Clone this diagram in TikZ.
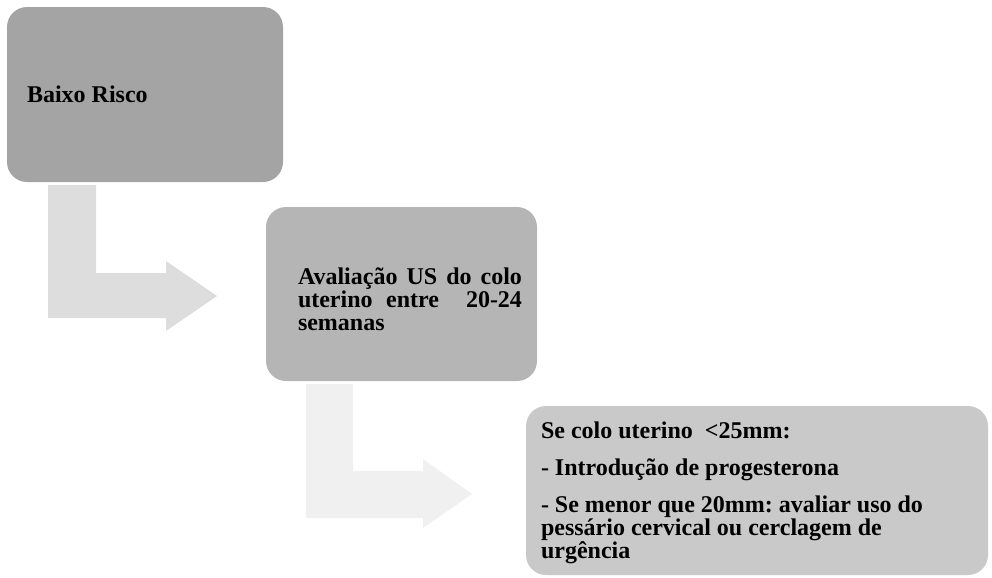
\documentclass[tikz,border=0pt]{standalone}
\usepackage{fontspec}
\setmainfont{Liberation Serif}
\usetikzlibrary{calc}
\definecolor{riscofill}{HTML}{A4A4A4}
\definecolor{avalfill}{HTML}{B5B5B5}
\definecolor{condfill}{HTML}{C9C9C9}
\definecolor{setaum}{HTML}{DDDDDD}
\definecolor{setadois}{HTML}{F0F0F0}
\tikzset{
	caixa/.style={rounded corners=15pt, inner sep=0pt},
	texto/.style={anchor=west, inner sep=0pt, font=\bfseries\fontsize{18}{17}\selectfont\frenchspacing},
}

\begin{document}
\begin{tikzpicture}[x=0.75pt, y=-0.75pt]
		%%%%% START %%%%%
		\useasboundingbox (0, 0) rectangle (992, 578);
		
		\fill[setaum] (48, 185) -- (96, 185) -- (96, 273) -- (166, 273) -- (166, 261) -- (217, 296) -- (166, 331) -- (166, 318) -- (48, 318) -- cycle;
		\fill[setadois] (306, 384) -- (353, 384) -- (353, 471) -- (423, 471) -- (423, 459) -- (472, 494) -- (423, 528) -- (423, 518) -- (306, 518) -- cycle;
		
		\node[caixa, fill=riscofill, minimum width=207pt, minimum height=131.25pt] (risco) at (145, 94.5) {};
		\node[texto, align=left] (riscotxt) at ([xshift=15pt]risco.west) {Baixo Risco};
		
		\node[caixa, fill=avalfill, minimum width=203.25pt, minimum height=130.5pt] (aval) at (401.5, 294) {};
		\node[texto, text width=168pt, align=justify] (avaltxt) at ([xshift=24pt, yshift=-4pt]aval.west) {Avaliação US do colo uterino entre~ 20-24 semanas};
		
		\node[caixa, fill=condfill, minimum width=346.5pt, minimum height=126.75pt] (cond) at (757, 490.5) {};
		\node[texto, align=left] (condtxt) at ([xshift=11.25pt, yshift=-1.5pt]cond.west) {Se colo uterino\ \ <25mm:\\[11pt]
			- Introdução de progesterona\\[11pt]
			- Se menor que 20mm: avaliar uso do\\
			pessário cervical ou cerclagem de\\
			urgência};
		%%%%% END %%%%%
\end{tikzpicture}
\end{document}
